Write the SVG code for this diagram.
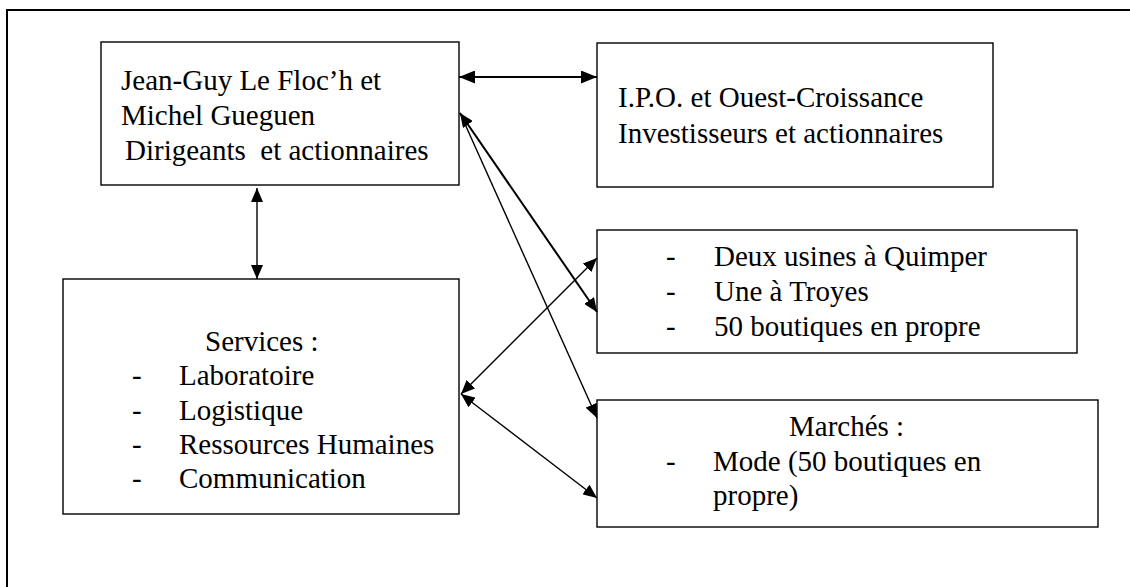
<svg xmlns="http://www.w3.org/2000/svg" width="1130" height="587" viewBox="0 0 1130 587">
<defs>
<style>
.box{fill:#fff;stroke:#000;stroke-width:1.4}
.t{font-family:"Liberation Serif","Times New Roman",serif;font-size:29px;fill:#000}
.c{stroke:#000;fill:none}
.thick{stroke-width:2}
.thin{stroke-width:1.4}
</style>
<marker id="ah" viewBox="0 0 14 12" refX="14" refY="6" markerWidth="14" markerHeight="12" markerUnits="userSpaceOnUse" orient="auto-start-reverse">
<path d="M0,0 L14,6 L0,12 Z" fill="#000"/>
</marker>
<marker id="ahb" viewBox="0 0 16 13" refX="16" refY="6.5" markerWidth="16" markerHeight="13" markerUnits="userSpaceOnUse" orient="auto-start-reverse">
<path d="M0,0 L16,6.5 L0,13 Z" fill="#000"/>
</marker>
</defs>
<rect x="7" y="10" width="1200" height="700" fill="#fff" stroke="#000" stroke-width="2"/>
<g id="dirigeants">
<rect class="box" x="101" y="42" width="358" height="143"/>
<text class="t" x="121" y="90">Jean-Guy Le Floc’h et</text>
<text class="t" x="121" y="125">Michel Gueguen</text>
<text class="t" x="125" y="160" xml:space="preserve">Dirigeants  et actionnaires</text>
</g>
<g id="investisseurs">
<rect class="box" x="597" y="43" width="396" height="144"/>
<text class="t" x="618" y="107">I.P.O. et Ouest-Croissance</text>
<text class="t" x="618" y="143">Investisseurs et actionnaires</text>
</g>
<g id="usines">
<rect class="box" x="597" y="230" width="480" height="123"/>
<text class="t" x="666" y="266">-</text>
<text class="t" x="714" y="266">Deux usines à Quimper</text>
<text class="t" x="666" y="301">-</text>
<text class="t" x="714" y="301">Une à Troyes</text>
<text class="t" x="666" y="336">-</text>
<text class="t" x="714" y="336">50 boutiques en propre</text>
</g>
<g id="marches">
<rect class="box" x="597" y="400" width="501" height="127"/>
<text class="t" x="789" y="436">Marchés :</text>
<text class="t" x="666" y="471">-</text>
<text class="t" x="713" y="471">Mode (50 boutiques en</text>
<text class="t" x="713" y="505">propre)</text>
</g>
<g id="services">
<rect class="box" x="63" y="279" width="396" height="235"/>
<text class="t" x="205" y="351">Services :</text>
<text class="t" x="132" y="385">-</text>
<text class="t" x="179" y="385">Laboratoire</text>
<text class="t" x="132" y="420">-</text>
<text class="t" x="179" y="420">Logistique</text>
<text class="t" x="132" y="454">-</text>
<text class="t" x="179" y="454">Ressources Humaines</text>
<text class="t" x="132" y="488">-</text>
<text class="t" x="179" y="488">Communication</text>
</g>
<g id="connectors">
<line class="c thick" x1="459" y1="77" x2="597" y2="77" marker-start="url(#ahb)" marker-end="url(#ahb)"/>
<line class="c thin" x1="257" y1="188" x2="257" y2="279" marker-start="url(#ah)" marker-end="url(#ah)"/>
<line class="c thick" x1="460" y1="113" x2="597" y2="312" marker-start="url(#ah)" marker-end="url(#ah)"/>
<line class="c thin" x1="460" y1="113" x2="597" y2="418" marker-end="url(#ah)"/>
<line class="c thin" x1="461" y1="394" x2="597" y2="258" marker-start="url(#ah)" marker-end="url(#ah)"/>
<line class="c thin" x1="461" y1="394" x2="597" y2="498" marker-start="url(#ah)" marker-end="url(#ah)"/>
</g>
</svg>
